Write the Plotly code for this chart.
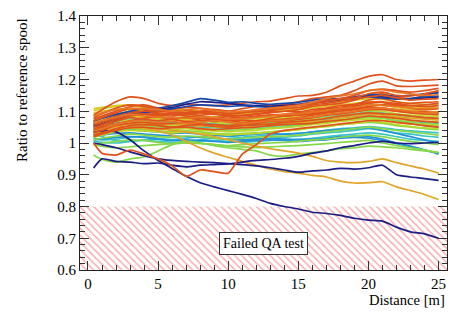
import plotly.graph_objects as go

# ---------------- data ----------------
X = [0.4, 1, 2, 3, 4, 5, 6, 7, 8, 9, 10, 11, 12,
     13, 14, 15, 16, 17, 18, 19, 20, 21, 22, 23, 24, 25]

X_RANGE = [-0.57, 25.6]
Y_RANGE = [0.6, 1.4]
QA_LIMIT = 0.8
QA_LABEL = "Failed QA test"
QA_LABEL_POS = (12.5, 0.683)

X_TITLE = "Distance [m]"
Y_TITLE = "Ratio to reference spool"

# cyan
cyan_1 = [1.015,1.010,1.012,1.018,1.020,1.015,1.010,1.015,1.020,1.025,1.020,1.018,1.022,
          1.025,1.028,1.030,1.035,1.040,1.045,1.048,1.052,1.048,1.042,1.038,1.035,1.032]
cyan_2 = [1.025,1.020,1.008,1.005,1.010,1.012,1.008,1.005,1.010,1.015,1.012,1.010,1.012,
          1.015,1.018,1.022,1.028,1.032,1.035,1.040,1.045,1.040,1.032,1.028,1.022,1.018]
cyan_3 = [1.042,1.048,1.058,1.062,1.058,1.055,1.052,1.055,1.050,1.048,1.045,1.048,1.050,
          1.052,1.055,1.058,1.062,1.068,1.072,1.078,1.082,1.080,1.072,1.068,1.065,1.062]
cyan_4 = [1.005,1.002,1.000,1.005,1.008,1.005,1.002,1.000,1.005,1.008,1.005,1.002,1.005,
          1.008,1.010,1.012,1.015,1.020,1.025,1.028,1.032,1.028,1.020,1.012,1.008,1.005]
cyan_5 = [1.055,1.060,1.068,1.075,1.072,1.068,1.065,1.062,1.065,1.060,1.058,1.060,1.062,
          1.065,1.068,1.072,1.078,1.082,1.088,1.092,1.098,1.095,1.088,1.082,1.080,1.078]
# sky blue
blue_1 = [1.020,1.025,1.030,1.032,1.028,1.025,1.022,1.020,1.018,1.015,1.012,1.010,1.012,
          1.015,1.012,1.010,1.012,1.015,1.020,1.022,1.020,1.012,1.000,0.990,0.978,0.965]
blue_2 = [1.030,1.035,1.040,1.042,1.038,1.035,1.030,1.032,1.028,1.025,1.022,1.025,1.028,
          1.030,1.028,1.030,1.035,1.040,1.042,1.045,1.048,1.040,1.030,1.020,1.010,1.000]
blue_3 = [1.048,1.055,1.062,1.068,1.065,1.060,1.058,1.060,1.055,1.052,1.050,1.052,1.055,
          1.058,1.060,1.065,1.070,1.075,1.080,1.082,1.085,1.080,1.070,1.062,1.055,1.050]
blue_4 = [1.010,1.012,1.018,1.020,1.018,1.012,1.008,1.010,1.008,1.005,1.002,1.005,1.008,
          1.010,1.008,1.005,1.008,1.010,1.015,1.018,1.015,1.008,0.998,0.988,0.978,0.968]
# light green
lgreen_1 = [1.010,1.015,1.022,1.028,1.025,1.020,1.018,1.022,1.020,1.015,1.012,1.015,1.018,
            1.020,1.022,1.025,1.030,1.035,1.040,1.045,1.050,1.045,1.040,1.035,1.030,1.025]
lgreen_2 = [1.028,1.032,1.040,1.045,1.042,1.038,1.035,1.038,1.035,1.030,1.028,1.030,1.032,
            1.035,1.038,1.042,1.048,1.052,1.058,1.062,1.065,1.062,1.055,1.050,1.045,1.042]
lgreen_3 = [1.040,1.045,1.055,1.060,1.055,1.050,1.048,1.050,1.045,1.042,1.040,1.042,1.045,
            1.048,1.050,1.055,1.060,1.065,1.070,1.075,1.080,1.078,1.070,1.065,1.060,1.058]
lgreen_4 = [0.995,1.000,1.005,1.010,1.008,1.002,0.998,1.000,0.998,0.995,0.992,0.995,0.998,
            1.000,1.002,1.005,1.010,1.012,1.018,1.022,1.025,1.020,1.012,1.005,1.000,0.995]
lgreen_5 = [0.962,0.948,0.940,0.950,0.956,0.975,0.995,1.005,1.000,0.992,0.985,0.980,0.975,
            0.962,0.958,0.965,0.970,0.975,0.982,0.985,0.990,0.988,0.985,0.980,0.975,0.970]
lgreen_6 = [0.995,0.990,0.985,0.988,0.992,0.995,0.998,1.002,1.000,0.995,0.990,0.988,0.985,
            0.988,0.990,0.992,0.995,0.998,1.002,1.005,1.008,1.000,0.992,0.985,0.978,0.970]
# yellow-green
ygreen_1 = [1.045,1.050,1.060,1.065,1.062,1.058,1.055,1.058,1.055,1.050,1.048,1.050,1.052,
            1.055,1.058,1.062,1.065,1.070,1.075,1.080,1.085,1.082,1.075,1.070,1.068,1.065]
ygreen_2 = [1.078,1.085,1.092,1.098,1.092,1.085,1.080,1.082,1.078,1.075,1.072,1.075,1.078,
            1.080,1.082,1.088,1.092,1.098,1.102,1.108,1.112,1.110,1.105,1.100,1.098,1.095]
ygreen_3 = [1.035,1.040,1.048,1.052,1.050,1.045,1.042,1.045,1.040,1.038,1.035,1.038,1.040,
            1.045,1.048,1.052,1.058,1.062,1.068,1.072,1.075,1.072,1.065,1.060,1.058,1.055]
ygreen_4 = [1.065,1.072,1.082,1.088,1.085,1.078,1.072,1.075,1.070,1.065,1.062,1.065,1.068,
            1.072,1.075,1.078,1.082,1.088,1.092,1.098,1.102,1.100,1.092,1.088,1.085,1.082]
ygreen_5 = [1.018,1.025,1.035,1.040,1.038,1.035,1.032,1.035,1.030,1.028,1.025,1.028,1.030,
            1.035,1.038,1.042,1.048,1.052,1.058,1.062,1.068,1.065,1.058,1.052,1.048,1.045]
ygreen_6 = [1.052,1.058,1.068,1.072,1.068,1.062,1.060,1.062,1.058,1.055,1.055,1.058,1.060,
            1.062,1.065,1.070,1.075,1.080,1.085,1.090,1.095,1.092,1.085,1.080,1.078,1.075]
# yellow
yellow_1 = [1.102,1.108,1.115,1.118,1.112,1.105,1.100,1.098,1.095,1.092,1.090,1.092,1.095,
            1.098,1.100,1.105,1.110,1.115,1.120,1.125,1.130,1.128,1.120,1.115,1.112,1.110]
yellow_2 = [1.095,1.100,1.105,1.105,1.100,1.095,1.090,1.088,1.085,1.082,1.085,1.080,1.082,
            1.085,1.090,1.092,1.098,1.105,1.112,1.118,1.122,1.120,1.112,1.105,1.100,1.098]
yellow_3 = [1.060,1.065,1.078,1.085,1.080,1.075,1.070,1.072,1.075,1.070,1.068,1.070,1.072,
            1.075,1.078,1.082,1.088,1.092,1.100,1.105,1.110,1.108,1.100,1.095,1.090,1.088]
yellow_4 = [1.108,1.112,1.118,1.120,1.115,1.110,1.108,1.105,1.100,1.098,1.095,1.098,1.100,
            1.102,1.105,1.110,1.115,1.120,1.128,1.135,1.140,1.138,1.130,1.125,1.122,1.120]
# gold
gold_1 = [1.030,1.040,1.052,1.060,1.058,1.055,1.060,1.058,1.052,1.055,1.050,1.048,1.052,
          1.055,1.060,1.065,1.068,1.072,1.080,1.085,1.090,1.088,1.082,1.078,1.075,1.072]
gold_2 = [1.040,1.045,1.050,1.052,1.048,1.045,1.040,1.035,1.028,1.020,1.010,1.000,0.990,
          0.982,0.975,0.968,0.958,0.945,0.940,0.938,0.942,0.950,0.938,0.928,0.918,0.905]
gold_3 = [1.030,1.035,1.045,1.048,1.045,1.038,1.025,1.005,0.985,0.968,0.955,0.942,0.930,
          0.918,0.910,0.905,0.898,0.893,0.880,0.874,0.875,0.878,0.862,0.850,0.838,0.822]
# navy / dark blue
navy_1 = [1.035,1.038,1.035,1.010,0.975,0.945,0.920,0.895,0.875,0.862,0.850,0.838,0.825,
          0.810,0.800,0.792,0.782,0.778,0.772,0.763,0.757,0.754,0.735,0.720,0.714,0.700]
navy_2 = [0.921,0.950,0.942,0.940,0.935,0.937,0.930,0.925,0.930,0.932,0.934,0.940,0.945,
          0.948,0.952,0.958,0.968,0.975,0.985,0.992,1.000,1.005,1.000,0.998,1.000,1.002]
navy_3 = [1.000,0.995,0.985,0.972,0.960,0.950,0.945,0.942,0.940,0.938,0.935,0.932,0.928,
          0.922,0.915,0.908,0.912,0.915,0.920,0.918,0.922,0.930,0.900,0.893,0.888,0.882]
navy_4 = [1.052,1.060,1.075,1.090,1.100,1.105,1.112,1.122,1.130,1.128,1.125,1.120,1.118,
          1.115,1.118,1.122,1.128,1.132,1.138,1.142,1.148,1.145,1.140,1.138,1.142,1.145]
dblue_1 = [1.070,1.078,1.090,1.100,1.108,1.110,1.118,1.128,1.140,1.135,1.128,1.130,1.125,
           1.122,1.125,1.128,1.135,1.138,1.140,1.145,1.152,1.150,1.148,1.150,1.155,1.158]
dblue_2 = [1.060,1.068,1.082,1.092,1.095,1.100,1.108,1.115,1.120,1.118,1.115,1.118,1.115,
           1.112,1.115,1.120,1.125,1.130,1.135,1.140,1.145,1.142,1.138,1.140,1.145,1.148]
# red-orange
red_1 = [1.088,1.105,1.130,1.145,1.140,1.125,1.118,1.122,1.120,1.118,1.120,1.125,1.130,
         1.132,1.140,1.148,1.150,1.160,1.180,1.195,1.210,1.215,1.200,1.195,1.198,1.200]
red_2 = [1.075,1.085,1.100,1.115,1.120,1.110,1.105,1.112,1.110,1.105,1.100,1.108,1.115,
         1.118,1.120,1.130,1.140,1.145,1.150,1.165,1.185,1.195,1.180,1.178,1.180,1.182]
red_3 = [1.062,1.070,1.085,1.100,1.098,1.092,1.095,1.090,1.088,1.092,1.085,1.088,1.092,
         1.098,1.100,1.105,1.115,1.120,1.125,1.135,1.150,1.155,1.145,1.140,1.150,1.160]
red_4 = [1.055,1.060,1.072,1.085,1.090,1.082,1.078,1.080,1.085,1.078,1.075,1.078,1.082,
         1.088,1.090,1.095,1.100,1.108,1.112,1.120,1.135,1.140,1.130,1.125,1.128,1.130]
red_5 = [1.045,1.052,1.068,1.080,1.075,1.070,1.075,1.080,1.072,1.068,1.070,1.072,1.070,
         1.078,1.085,1.088,1.092,1.098,1.105,1.108,1.115,1.120,1.118,1.110,1.105,1.108]
red_6 = [1.040,1.048,1.060,1.070,1.078,1.082,1.075,1.068,1.070,1.075,1.072,1.065,1.068,
         1.072,1.075,1.080,1.088,1.095,1.100,1.105,1.112,1.110,1.105,1.100,1.098,1.095]
red_7 = [1.068,1.078,1.090,1.095,1.092,1.088,1.085,1.090,1.095,1.090,1.088,1.085,1.090,
         1.095,1.100,1.098,1.105,1.110,1.118,1.122,1.128,1.130,1.125,1.118,1.115,1.118]
red_8 = [1.032,1.040,1.055,1.062,1.065,1.060,1.062,1.065,1.060,1.058,1.055,1.060,1.062,
         1.068,1.070,1.075,1.080,1.088,1.092,1.098,1.105,1.105,1.100,1.095,1.092,1.090]
red_9 = [1.080,1.092,1.110,1.120,1.115,1.108,1.100,1.102,1.098,1.095,1.098,1.100,1.098,
         1.105,1.112,1.118,1.125,1.130,1.138,1.142,1.155,1.160,1.150,1.148,1.155,1.165]
red_10 = [1.050,1.058,1.075,1.088,1.092,1.088,1.090,1.085,1.078,1.080,1.082,1.080,1.085,
          1.088,1.085,1.090,1.098,1.100,1.108,1.115,1.125,1.128,1.120,1.118,1.120,1.125]
red_11 = [1.025,1.032,1.045,1.055,1.058,1.055,1.050,1.055,1.058,1.052,1.050,1.055,1.058,
          1.060,1.065,1.068,1.072,1.078,1.085,1.090,1.095,1.092,1.090,1.085,1.080,1.078]
red_12 = [1.058,1.065,1.080,1.092,1.100,1.095,1.090,1.092,1.100,1.098,1.092,1.095,1.100,
          1.102,1.108,1.112,1.120,1.125,1.132,1.140,1.145,1.150,1.142,1.135,1.138,1.140]
red_13 = [1.020,1.028,1.040,1.048,1.050,1.045,1.048,1.050,1.045,1.042,1.045,1.048,1.050,
          1.055,1.058,1.060,1.062,1.068,1.072,1.078,1.085,1.082,1.078,1.072,1.068,1.065]
red_14 = [1.070,1.080,1.095,1.108,1.105,1.100,1.098,1.095,1.100,1.105,1.100,1.098,1.105,
          1.110,1.115,1.120,1.128,1.135,1.140,1.150,1.165,1.170,1.165,1.160,1.165,1.172]
red_15 = [1.000,0.968,0.962,0.978,0.965,0.950,0.928,0.895,0.915,0.910,0.905,0.965,0.995,
          1.028,1.040,1.045,1.050,1.055,1.060,1.065,1.070,1.070,1.065,1.060,1.055,1.050]
# orange
orange_1 = [1.062,1.070,1.082,1.090,1.085,1.082,1.080,1.078,1.082,1.080,1.075,1.078,1.080,
            1.085,1.090,1.092,1.098,1.102,1.110,1.112,1.120,1.118,1.115,1.110,1.108,1.110]
orange_2 = [1.038,1.045,1.058,1.068,1.070,1.065,1.068,1.062,1.065,1.070,1.065,1.062,1.065,
            1.070,1.072,1.078,1.082,1.090,1.095,1.100,1.108,1.110,1.105,1.100,1.095,1.098]
orange_3 = [1.085,1.095,1.105,1.110,1.108,1.105,1.100,1.105,1.108,1.102,1.098,1.100,1.105,
            1.110,1.112,1.118,1.128,1.140,1.148,1.155,1.165,1.168,1.160,1.155,1.150,1.152]

# ---------------- colours ----------------
C_CYAN = "#38c4c8"
C_BLUE = "#2492d8"
C_LGREEN = "#86d84a"
C_YGREEN = "#bcd828"
C_YELLOW = "#d8c820"
C_GOLD = "#e0a428"
C_NAVY = "#1c1e84"
C_DBLUE = "#1446aa"
C_RED = "#e0521c"
C_ORANGE = "#e87426"

series = [
    (cyan_1, C_CYAN), (cyan_2, C_CYAN), (cyan_3, C_CYAN), (cyan_4, C_CYAN), (cyan_5, C_CYAN),
    (blue_1, C_BLUE), (blue_2, C_BLUE), (blue_3, C_BLUE), (blue_4, C_BLUE),
    (lgreen_1, C_LGREEN), (lgreen_2, C_LGREEN), (lgreen_3, C_LGREEN), (lgreen_4, C_LGREEN),
    (lgreen_5, C_LGREEN), (lgreen_6, C_LGREEN),
    (ygreen_1, C_YGREEN), (ygreen_2, C_YGREEN), (ygreen_3, C_YGREEN), (ygreen_4, C_YGREEN),
    (ygreen_5, C_YGREEN), (ygreen_6, C_YGREEN),
    (yellow_1, C_YELLOW), (yellow_2, C_YELLOW), (yellow_3, C_YELLOW), (yellow_4, C_YELLOW),
    (gold_1, C_GOLD), (gold_2, C_GOLD), (gold_3, C_GOLD),
    (navy_1, C_NAVY), (navy_2, C_NAVY), (navy_3, C_NAVY),
    (red_1, C_RED), (red_2, C_RED), (red_3, C_RED), (red_4, C_RED), (red_5, C_RED),
    (red_6, C_RED), (red_7, C_RED), (red_8, C_RED),
    (navy_4, C_NAVY), (dblue_1, C_DBLUE), (dblue_2, C_DBLUE),
    (red_9, C_RED), (red_10, C_RED), (red_11, C_RED), (red_12, C_RED), (red_13, C_RED),
    (red_14, C_RED), (red_15, C_RED),
    (orange_1, C_ORANGE), (orange_2, C_ORANGE), (orange_3, C_ORANGE),
]

FONT = "Liberation Serif, DejaVu Serif, serif"

fig = go.Figure()

# failed-QA hatched band
fig.add_trace(go.Scatter(
    x=[X_RANGE[0], X_RANGE[1], X_RANGE[1], X_RANGE[0], X_RANGE[0]],
    y=[Y_RANGE[0], Y_RANGE[0], QA_LIMIT, QA_LIMIT, Y_RANGE[0]],
    mode="lines", fill="toself",
    line=dict(width=0, color="rgba(0,0,0,0)"),
    fillcolor="rgba(0,0,0,0)",
    fillpattern=dict(shape="\\", fgcolor="#f06060", bgcolor="white",
                     size=5, solidity=0.3),
    hoverinfo="skip", showlegend=False,
))

for ys, col in series:
    fig.add_trace(go.Scatter(
        x=X, y=ys, mode="lines",
        line=dict(color=col, width=1.7, shape="spline", smoothing=0.6),
        showlegend=False, hoverinfo="skip",
    ))

axis_common = dict(
    showgrid=False, zeroline=False, showline=True, linecolor="#222",
    linewidth=1, mirror="allticks", ticks="inside", ticklen=9,
    tickwidth=1, tickcolor="#333", automargin=False,
    tickfont=dict(family=FONT, size=15, color="black"),
)
fig.update_xaxes(range=X_RANGE, tick0=0, dtick=5,
                 minor=dict(ticks="inside", ticklen=5, dtick=1, tick0=0,
                            tickcolor="#333", showgrid=False),
                 **axis_common)
fig.update_yaxes(range=Y_RANGE, tick0=0.6, dtick=0.1,
                 minor=dict(ticks="inside", ticklen=5, dtick=0.02, tick0=0.6,
                            tickcolor="#333", showgrid=False),
                 **axis_common)

fig.add_annotation(
    x=QA_LABEL_POS[0], y=QA_LABEL_POS[1], xref="x", yref="y",
    text=QA_LABEL, showarrow=False,
    font=dict(family=FONT, size=14, color="black"),
    bgcolor="white", bordercolor="#333", borderwidth=1, borderpad=3,
)
fig.add_annotation(
    x=1, y=-0.118, xref="paper", yref="paper", xanchor="right", yanchor="middle",
    text=X_TITLE, showarrow=False, font=dict(family=FONT, size=14.6, color="black"),
)
fig.add_annotation(
    x=-0.158, y=1, xref="paper", yref="paper", xanchor="center", yanchor="top",
    text=Y_TITLE, textangle=-90, showarrow=False,
    font=dict(family=FONT, size=15, color="black"),
)

fig.update_layout(
    width=470, height=319,
    margin=dict(l=80, r=23, t=16, b=49, autoexpand=False),
    paper_bgcolor="white", plot_bgcolor="white",
    showlegend=False, hovermode=False,
)

fig.write_html("out.html",
               config={"displayModeBar": False, "staticPlot": True},
               post_script="document.body.style.margin='0';document.body.style.padding='0';")
